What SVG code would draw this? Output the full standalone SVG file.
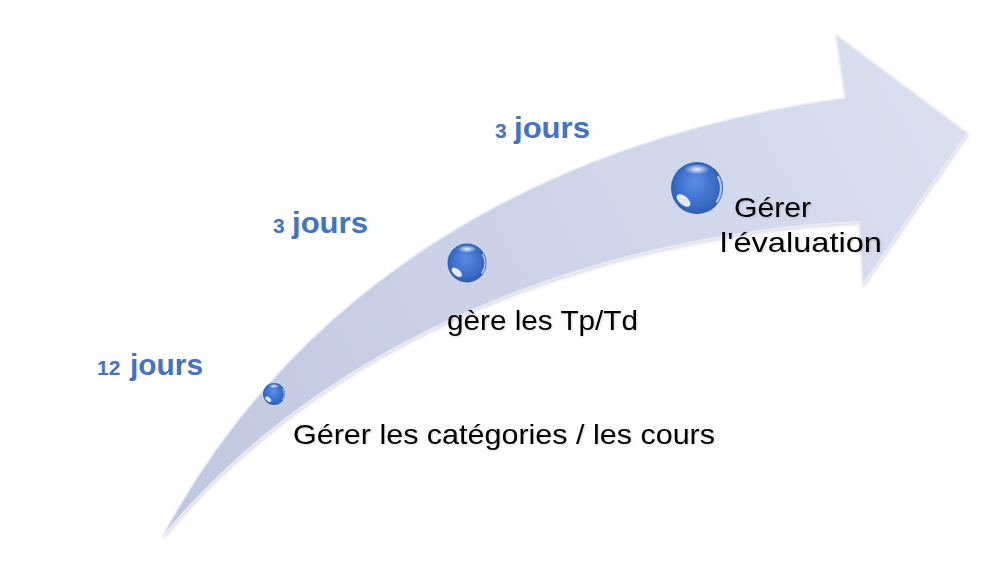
<svg xmlns="http://www.w3.org/2000/svg" width="989" height="578" viewBox="0 0 989 578">
  <defs>
    <linearGradient id="arrowGrad" x1="160" y1="540" x2="970" y2="100" gradientUnits="userSpaceOnUse">
      <stop offset="0" stop-color="#bfc7df"/>
      <stop offset="0.5" stop-color="#ccd3e9"/>
      <stop offset="1" stop-color="#dbe0f0"/>
    </linearGradient>
    <radialGradient id="ball" cx="0.5" cy="0.5" r="0.55" fx="0.45" fy="0.35">
      <stop offset="0" stop-color="#5a8ee6"/>
      <stop offset="0.7" stop-color="#3a6cc8"/>
      <stop offset="1" stop-color="#2c58a8"/>
    </radialGradient>
    <radialGradient id="ballHi" cx="0.5" cy="0.5" r="0.5">
      <stop offset="0" stop-color="#ffffff" stop-opacity="0.9"/>
      <stop offset="1" stop-color="#ffffff" stop-opacity="0"/>
    </radialGradient>
    <filter id="shadow" x="-10%" y="-10%" width="120%" height="120%">
      <feDropShadow dx="1" dy="2" stdDeviation="1.5" flood-color="#8a93b0" flood-opacity="0.3"/>
    </filter>
    <filter id="tshadow" x="-5%" y="-20%" width="110%" height="140%">
      <feDropShadow dx="1" dy="1" stdDeviation="0.8" flood-color="#000" flood-opacity="0.15"/>
    </filter>
    <g id="sphere">
      <circle r="1" fill="url(#ball)"/>
      <ellipse cx="0" cy="-0.72" rx="0.5" ry="0.2" fill="url(#ballHi)"/>
      <ellipse cx="-0.52" cy="0.48" rx="0.32" ry="0.17" transform="rotate(40 -0.52 0.48)" fill="#ffffff" opacity="0.85"/>
      <path d="M0.8,-0.45 A0.95,0.95 0 0 1 0.75,0.55" fill="none" stroke="#dbe7ff" stroke-width="0.08" opacity="0.8"/>
    </g>
  </defs>
  <style>
    .dur { font-family: "Liberation Sans", Arial, sans-serif; font-weight: bold; fill: #4472c4; }
    .lbl { font-family: "Liberation Sans", Arial, sans-serif; font-size: 28px; fill: #000000; filter: url(#tshadow); }
  </style>
  <rect width="989" height="578" fill="#ffffff"/>

  <g id="connectors">
    <path id="arrow" filter="url(#shadow)" fill="url(#arrowGrad)" stroke="#e9ecf6" stroke-width="1.5"
      d="M162,537 C300,280 550,138 845,98 L836,35 L967,133 L863,284 L859,222 C650,230 350,310 162,537 Z"/>
  </g>

  <g id="node-categories">
    <use href="#sphere" transform="translate(274,394) scale(11)"/>
    <text class="lbl" x="293" y="444" textLength="422" lengthAdjust="spacingAndGlyphs">Gérer les catégories / les cours</text>
  </g>
  <g id="node-tptd">
    <use href="#sphere" transform="translate(467,263) scale(19.5)"/>
    <text class="lbl" x="447" y="330" textLength="191" lengthAdjust="spacingAndGlyphs">gère les Tp/Td</text>
  </g>
  <g id="node-evaluation">
    <use href="#sphere" transform="translate(697,188) scale(26)"/>
    <text class="lbl" x="734" y="217" textLength="77" lengthAdjust="spacingAndGlyphs">Gérer</text>
    <text class="lbl" x="720" y="252" textLength="162" lengthAdjust="spacingAndGlyphs">l'évaluation</text>
  </g>

  <g id="duration-12">
    <text class="dur" x="97" y="375" font-size="21">12</text>
    <text class="dur" x="130" y="375" font-size="29" textLength="73" lengthAdjust="spacingAndGlyphs">jours</text>
  </g>
  <g id="duration-3a">
    <text class="dur" x="273" y="233" font-size="21">3</text>
    <text class="dur" x="292" y="233" font-size="29" textLength="76" lengthAdjust="spacingAndGlyphs">jours</text>
  </g>
  <g id="duration-3b">
    <text class="dur" x="495" y="138" font-size="21">3</text>
    <text class="dur" x="514" y="138" font-size="29" textLength="76" lengthAdjust="spacingAndGlyphs">jours</text>
  </g>
</svg>
